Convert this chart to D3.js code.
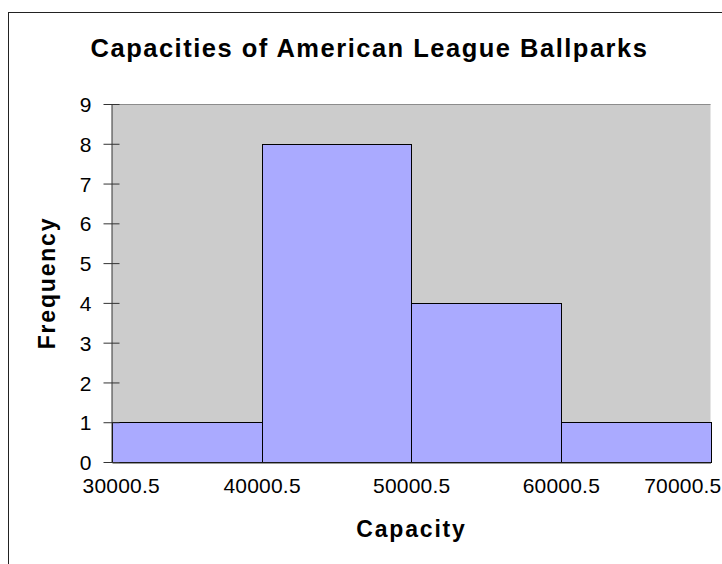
<!DOCTYPE html>
<html><head><meta charset="utf-8">
<script src="https://cdn.jsdelivr.net/npm/d3@7"></script>
<style>body{margin:0;background:#fff}svg{display:block}text{font-family:"Liberation Sans",Arial,sans-serif}</style>
</head><body><svg id="c" width="722" height="564"></svg>
<script>
const binEdges = [30000.5, 40000.5, 50000.5, 60000.5, 70000.5];
const frequencies = [1, 8, 4, 1];
const yTicks = [0,1,2,3,4,5,6,7,8,9];
const xTickLabels = ["30000.5","40000.5","50000.5","60000.5","70000.5"];
const title = "Capacities of American League Ballparks";
const xTitle = "Capacity", yTitle = "Frequency";

const svg = d3.select("#c");
svg.append("rect").attr("x",8.5).attr("y",12.5).attr("width",800).attr("height",700)
  .attr("fill","#fff").attr("stroke","#222").attr("stroke-width",1);

const L=112, R=710.5, T=104, B=462;
const x = d3.scaleLinear().domain([binEdges[0], binEdges[binEdges.length-1]]).range([L,R]);
const y = d3.scaleLinear().domain([0,9]).range([B,T]);

svg.append("rect").attr("x",L).attr("y",T).attr("width",R-L).attr("height",B-T).attr("fill","#cccccc");
svg.append("line").attr("x1",L).attr("x2",R).attr("y1",T+0.5).attr("y2",T+0.5).attr("stroke","#8c8c8c");

const bins = frequencies.map((f,i)=>({x0:binEdges[i],x1:binEdges[i+1],f}));
svg.append("g").selectAll("rect").data(bins).join("rect")
  .attr("x",d=>Math.round(x(d.x0))+0.5).attr("y",d=>Math.round(y(d.f))+0.5)
  .attr("width",d=>Math.round(x(d.x1))-Math.round(x(d.x0)))
  .attr("height",d=>Math.round(y(0))-Math.round(y(d.f)))
  .attr("fill","#aaaaff").attr("stroke","#000").attr("stroke-width",1);

const font = "Liberation Sans, Arial, sans-serif";
const ya = d3.axisLeft(y).tickValues(yTicks).tickSizeInner(8).tickSizeOuter(0).tickPadding(12).tickFormat(d3.format("d"));
const yg = svg.append("g").attr("transform",`translate(${L-0.5},0)`).call(ya);
yg.selectAll(".tick line").attr("x2",-8).attr("x1",8).attr("stroke","#333");
yg.select(".domain").attr("stroke","#333");
yg.selectAll("text").attr("font-size",21).attr("fill","#000").attr("dy","0.36em").style("font-family",font);

const xa = d3.axisBottom(x).tickValues(binEdges).tickSize(0).tickPadding(30).tickFormat((d,i)=>xTickLabels[i]);
const xg = svg.append("g").attr("transform",`translate(0,${B+0.5})`).call(xa);
xg.select(".domain").attr("stroke","#333");
xg.selectAll("text").attr("font-size",21).attr("fill","#000").attr("dy",0).attr("letter-spacing",0.2).style("font-family",font);
// keep edge labels inside the chart area
xg.selectAll(".tick").each(function(d){
  const t = d3.select(this).select("text");
  const w = t.node().getComputedTextLength();
  const cx = x(d);
  let dx = 0;
  if (cx - w/2 < 82) dx = 82 - (cx - w/2);
  if (cx + w/2 > 721) dx = 721 - (cx + w/2);
  t.attr("x", dx);
});

svg.append("text").attr("x",369.5).attr("y",57).attr("text-anchor","middle")
  .attr("font-size",25.5).attr("font-weight","bold").attr("letter-spacing",1.5).text(title);
svg.append("text").attr("x",411.5).attr("y",537).attr("text-anchor","middle")
  .attr("font-size",23).attr("font-weight","bold").attr("letter-spacing",1.8).text(xTitle);
svg.append("text").attr("transform",`translate(55,${(T+B)/2}) rotate(-90)`).attr("text-anchor","middle")
  .attr("font-size",23).attr("font-weight","bold").attr("letter-spacing",1.8).text(yTitle);
</script></body></html>
